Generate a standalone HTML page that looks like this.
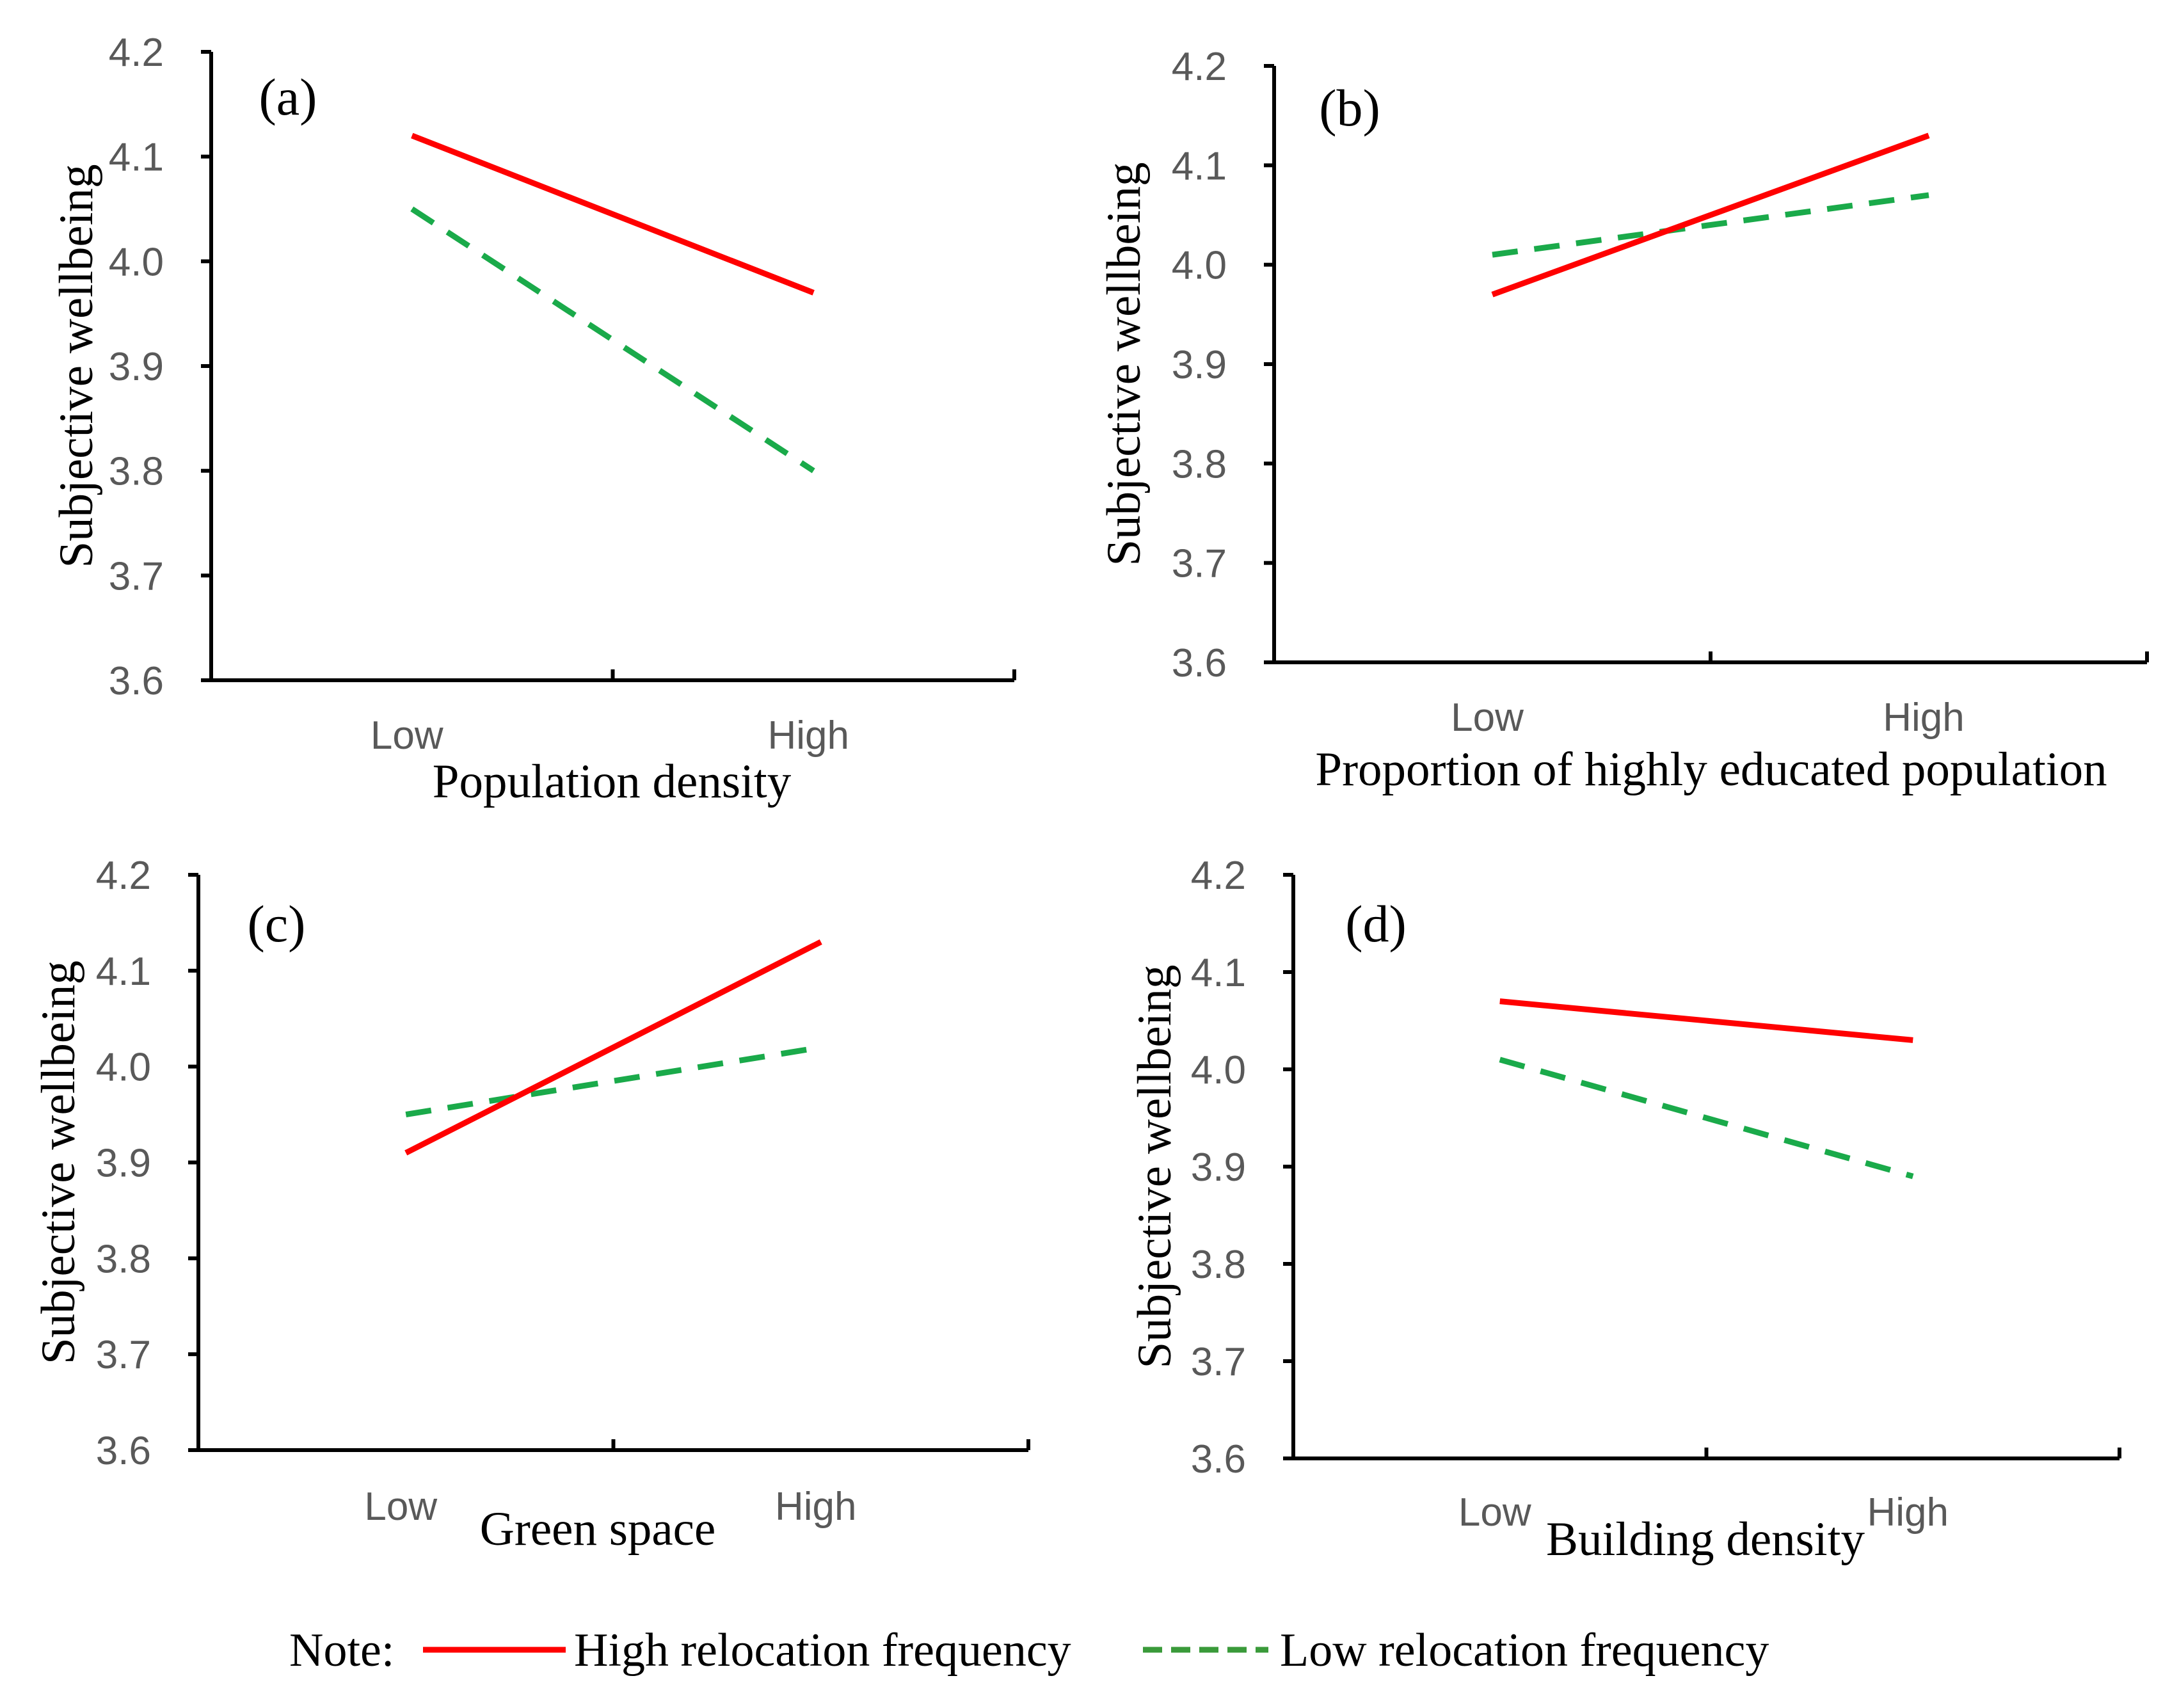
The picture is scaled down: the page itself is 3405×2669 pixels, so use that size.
<!DOCTYPE html>
<html><head><meta charset="utf-8"><style>
html,body{margin:0;padding:0;background:#fff}
svg{display:block}
.tick{font-family:"Liberation Sans",sans-serif;font-size:62px;fill:#595959}
.ttl{font-family:"Liberation Serif",serif;font-size:75px;fill:#000}
.pl{font-family:"Liberation Serif",serif;font-size:82px;fill:#000}
</style></head><body>
<svg id="chart" width="3405" height="2669" viewBox="0 0 3405 2669" xmlns="http://www.w3.org/2000/svg">
<g>
<text x="452" y="2603" class="ttl" style="font-size:74px">Note:</text>
<line x1="661" y1="2578" x2="884" y2="2578" stroke="#ff0000" stroke-width="9"/>
<text x="897" y="2603" class="ttl" style="font-size:74px">High relocation frequency</text>
<line x1="1786" y1="2578" x2="1982" y2="2578" stroke="#3a9a3a" stroke-width="9" stroke-dasharray="30,14"/>
<text x="2000" y="2603" class="ttl" style="font-size:74px">Low relocation frequency</text>
</g>
</svg>
<script>
const yTicks = [3.6, 3.7, 3.8, 3.9, 4.0, 4.1, 4.2];
const categories = ["Low", "High"];
const panelLabels = ["(a)", "(b)", "(c)", "(d)"];
const xTitles = ["Population density", "Proportion of highly educated population", "Green space", "Building density"];
const highA = [4.12, 3.97];
const lowA = [4.05, 3.80];
const highB = [3.97, 4.13];
const lowB = [4.01, 4.07];
const highC = [3.91, 4.13];
const lowC = [3.95, 4.02];
const highD = [4.07, 4.03];
const lowD = [4.01, 3.89];
const highSeries = [highA, highB, highC, highD];
const lowSeries = [lowA, lowB, lowC, lowD];

const layouts = [
 {x0:330,x1:1585,yTop:81,yBot:1063,catY:1150,titleX:956,titleY:1222,labX:450,labY:153,yTitleX:120},
 {x0:1991,x1:3355,yTop:103,yBot:1035,catY:1122,titleX:2674,titleY:1203,labX:2109,labY:170,yTitleX:1757},
 {x0:310,x1:1607,yTop:1367,yBot:2266,catY:2355,titleX:934,titleY:2390,labX:432,labY:1445,yTitleX:92},
 {x0:2021,x1:3312,yTop:1367,yBot:2279,catY:2364,titleX:2665,titleY:2406,labX:2150,labY:1445,yTitleX:1805}
];
const NS = "http://www.w3.org/2000/svg";
const svg = document.getElementById('chart');
function mk(tag, attrs, parent){const e=document.createElementNS(NS,tag);for(const k in attrs)e.setAttribute(k,attrs[k]);parent.appendChild(e);return e;}

layouts.forEach((L,i)=>{
 const g = mk('g',{},svg);
 
 
 const yMin=yTicks[0], yMax=yTicks[yTicks.length-1];
 const ys = v => L.yBot - (v-yMin)/(yMax-yMin)*(L.yBot-L.yTop);
 const w = (L.x1-L.x0)/categories.length;
 const xs = j => L.x0 + w*(j+0.5);
 const ya = mk('line',{x1:L.x0,y1:L.yTop,x2:L.x0,y2:L.yBot,stroke:'#000','stroke-width':6},g);
 
 
 const xa = mk('line',{x1:L.x0-3,y1:L.yBot,x2:L.x1,y2:L.yBot,stroke:'#000','stroke-width':6},g);
 
 
 yTicks.forEach(t=>{
  const y=ys(t);
  mk('line',{x1:L.x0-16,y1:y,x2:L.x0,y2:y,stroke:'#000','stroke-width':6},g);
  const tx=mk('text',{x:L.x0-74,y:y+22,'text-anchor':'end',class:'tick'},g);
  tx.textContent=t.toFixed(1);
  
  
 });
 for(let j=0;j<=categories.length;j++){
  const x=L.x0+w*j;
  mk('line',{x1:x,y1:L.yBot,x2:x,y2:L.yBot-17,stroke:'#000','stroke-width':6},g);
 }
 categories.forEach((c,j)=>{
  const tx=mk('text',{x:xs(j)-8,y:L.catY+20,'text-anchor':'middle',class:'tick'},g);
  tx.textContent=c;
  
  
 });
 const xt=mk('text',{x:L.titleX,y:L.titleY+24,'text-anchor':'middle',class:'ttl'},g);
 xt.textContent=xTitles[i];
 
 
 const cy=(L.yTop+L.yBot)/2;
 const yt=mk('text',{x:L.yTitleX+24,y:cy,'text-anchor':'middle',class:'ttl',transform:`rotate(-90 ${L.yTitleX+24} ${cy})`},g);
 yt.textContent='Subjective wellbeing';
 
 
 const pl=mk('text',{x:L.labX,y:L.labY+26,'text-anchor':'middle',class:'pl'},g);
 pl.textContent=panelLabels[i];
 
 
 const lo=lowSeries[i], hi=highSeries[i];
 const l1=mk('line',{x1:xs(0),y1:ys(lo[0]),x2:xs(1),y2:ys(lo[1]),stroke:'#1aaa4a','stroke-width':9,'stroke-dasharray':'40,26'},g);
 
 
 const l2=mk('line',{x1:xs(0),y1:ys(hi[0]),x2:xs(1),y2:ys(hi[1]),stroke:'#ff0000','stroke-width':9},g);
 
 
});
</script>
</body></html>
